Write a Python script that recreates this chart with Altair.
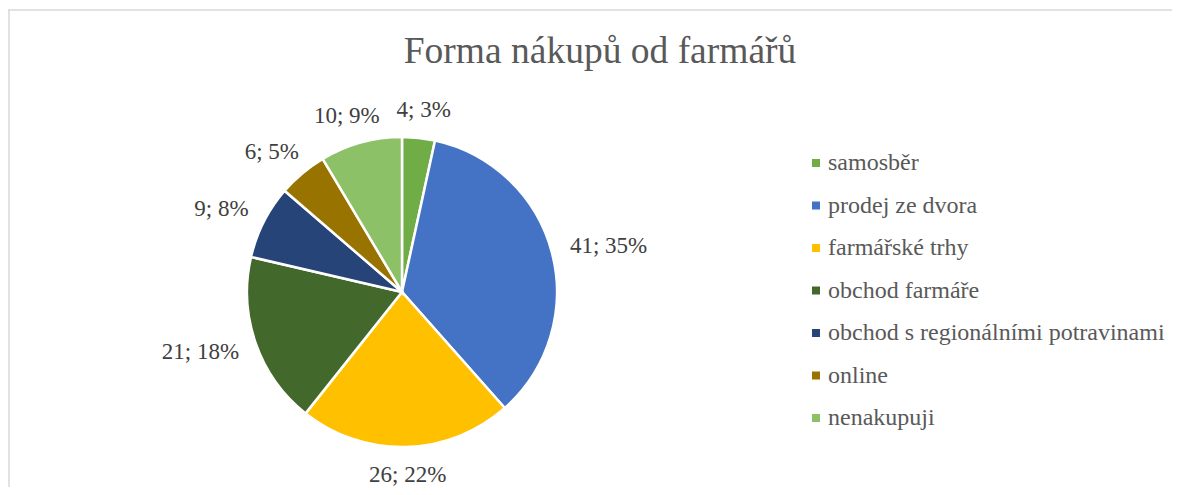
import altair as alt
import pandas as pd

categories = ["samosběr", "prodej ze dvora", "farmářské trhy", "obchod farmáře",
              "obchod s regionálními potravinami", "online", "nenakupuji"]
counts = [4, 41, 26, 21, 9, 6, 10]
colors = ["#70AD47", "#4472C4", "#FFC000", "#43682B", "#264478", "#997300", "#8CC168"]
title_text = "Forma nákupů od farmářů"

total = sum(counts)
percents = [int(round(100 * c / total)) for c in counts]

df = pd.DataFrame({
    "kategorie": categories,
    "pocet": counts,
    "poradi": list(range(len(categories))),
    "popisek": [f"{c}; {p}%" for c, p in zip(counts, percents)],
})

W, H = 1164, 479
CX, CY, R = 394, 284, 155
FONT = "'Times New Roman', 'Liberation Serif', serif"

pie = alt.Chart(df).mark_arc(outerRadius=R, stroke="white", strokeWidth=2.5).encode(
    theta=alt.Theta("pocet:Q", stack=True),
    order=alt.Order("poradi:Q"),
    color=alt.Color(
        "kategorie:N",
        sort=categories,
        scale=alt.Scale(domain=categories, range=colors),
        legend=alt.Legend(
            title=None, orient="none", legendX=796, legendY=143,
            symbolType="square", symbolSize=64, symbolStrokeWidth=0,
            labelFont=FONT, labelFontSize=24, labelColor="#595959",
            rowPadding=18.5, labelOffset=0, labelLimit=500,
        ),
    ),
    x=alt.value(CX), y=alt.value(CY),
)

# label anchor: point just outside the rim at the slice's middle angle,
# then pushed out by half of the text box in x and y
labels = alt.Chart(df).transform_joinaggregate(
    total="sum(pocet)"
).transform_window(
    cum="sum(pocet)", sort=[alt.SortField("poradi")], frame=[None, 0]
).transform_calculate(
    mid="(datum.cum - datum.pocet/2) / datum.total * 2 * PI",
    tw="length(datum.popisek) * 11",
).transform_calculate(
    px=f"{CX} + ({R} + 20) * sin(datum.mid) + sin(datum.mid) * datum.tw / 2",
    py=f"{CY} - ({R} + 20) * cos(datum.mid) - cos(datum.mid) * 8",
).mark_text(font=FONT, fontSize=23, color="#404040", align="center", baseline="middle").encode(
    x=alt.X("px:Q", scale=None),
    y=alt.Y("py:Q", scale=None),
    text="popisek:N",
)

frame_df = pd.DataFrame({"k": [0]})
top_line = alt.Chart(frame_df).mark_rule(color="#d9d9d9", strokeWidth=1.5).encode(
    x=alt.value(0), x2=alt.value(W), y=alt.value(2)
)
left_line = alt.Chart(frame_df).mark_rule(color="#d9d9d9", strokeWidth=1.5).encode(
    x=alt.value(1), y=alt.value(2), y2=alt.value(H)
)

chart = alt.layer(top_line, left_line, pie, labels).properties(
    width=W, height=H,
    autosize=alt.AutoSizeParams(type="none"),
    padding=0,
    background="white",
    title=alt.TitleParams(
        title_text, font=FONT, fontSize=37.5, fontWeight="normal", color="#595959",
        anchor="middle", baseline="alphabetic", offset=-92, dx=10,
    ),
).configure_view(stroke=None)

chart.save("out.html", embed_options={"renderer": "svg", "actions": False})
